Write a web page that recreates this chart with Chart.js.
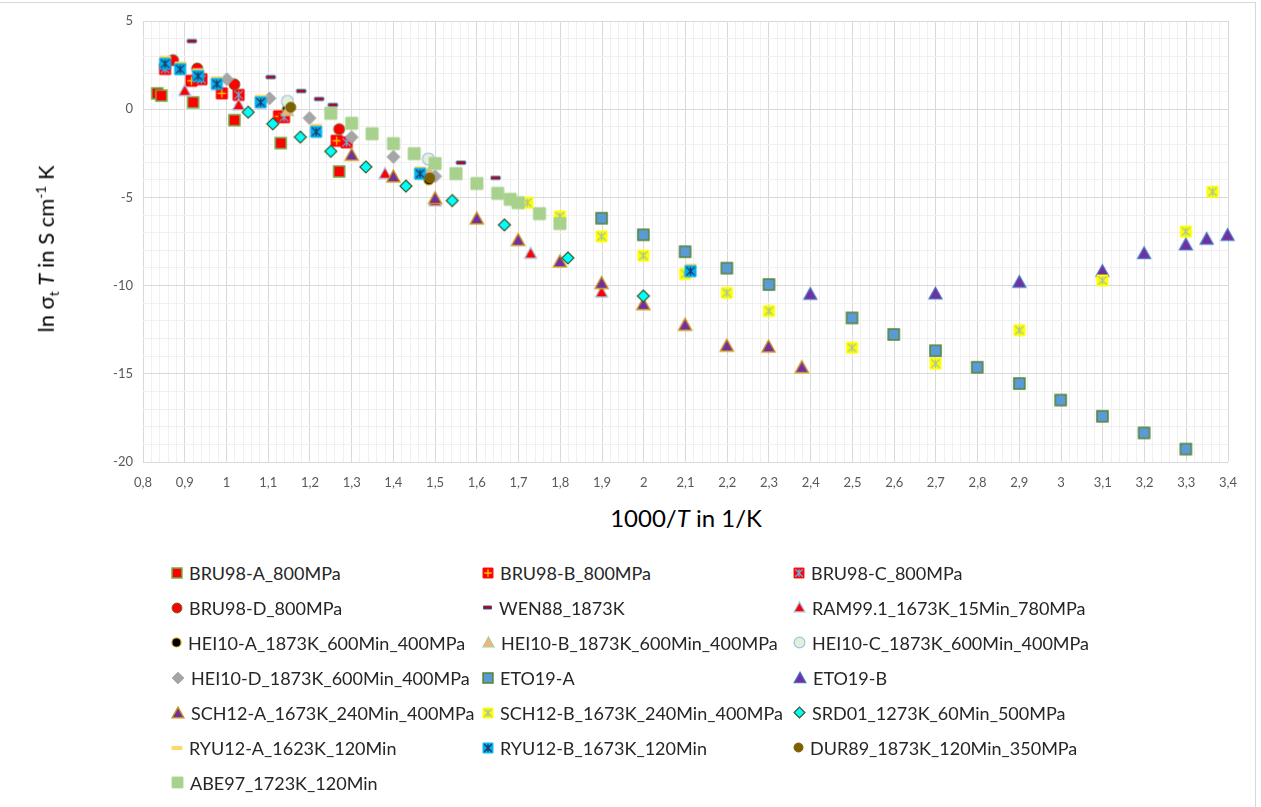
<!DOCTYPE html>
<html>
<head>
<meta charset="utf-8">
<script src="https://cdn.jsdelivr.net/npm/chart.js@4.4.1/dist/chart.umd.min.js"></script>
<style>
  body { margin: 0; background: #fff; font-family: Lato, "Open Sans", sans-serif; }
  #wrap { position: relative; width: 1261px; height: 807px; overflow: hidden; }
  #frame { position: absolute; left: -2px; top: 2px; width: 1258px; height: 830px; border: 1px solid #d9d9d9; box-sizing: border-box; }
  #plot { position: absolute; left: 0; top: 0; width: 1261px; height: 492px; }
  .ytitle { position: absolute; left: 47px; top: 249px; transform: translate(-50%, -50%) rotate(-90deg);
            white-space: nowrap; font-size: 22px; color: #000; }
  .xtitle { position: absolute; left: 686px; top: 517px; transform: translate(-50%, -50%);
            white-space: nowrap; font-size: 24px; color: #000; }
  sub, sup { font-size: 62%; }
  #legend { position: absolute; left: 170px; top: 555px; display: grid;
            grid-template-columns: 311px 311px 330px; grid-auto-rows: 35px; }
  .item { display: flex; align-items: center; font-size: 18px; color: #262626; white-space: nowrap; }
  .item canvas { margin-right: 5px; }
</style>
</head>
<body>
<div id="wrap">
  <div id="frame"></div>
  <div id="plot"><canvas id="chart"></canvas></div>
  <div class="ytitle">ln σ<sub>t</sub> <i>T</i> in S cm<sup>-1</sup> K</div>
  <div class="xtitle">1000/<i>T</i> in 1/K</div>
  <div id="legend"></div>
</div>
<script>
// ── data: [1000/T, ln(sigma T)] ─────────────────────────────────
const BRU98_A = [[0.834, 0.90], [0.844, 0.77], [0.920, 0.39], [1.019, -0.62], [1.130, -1.92], [1.270, -3.53]];
const BRU98_B = [[0.916, 1.61], [0.989, 0.90], [1.126, -0.40], [1.264, -1.79]];
const BRU98_C = [[0.853, 2.28], [0.940, 1.70], [1.029, 0.81], [1.138, -0.45], [1.288, -1.88]];
const BRU98_D = [[0.872, 2.78], [0.930, 2.31], [1.019, 1.41], [1.270, -1.13]];
const WEN88 = [[0.917, 3.86], [1.106, 1.82], [1.179, 1.03], [1.222, 0.58], [1.255, 0.24], [1.562, -3.03], [1.645, -3.89]];
const RAM99 = [[0.900, 1.05], [1.029, 0.24], [1.380, -3.65], [1.500, -5.20], [1.729, -8.17], [1.899, -10.37]];
const HEI10_A = [[1.146, 0.02], [1.485, -4.00]];
const HEI10_B = [[1.146, -0.08], [1.486, -3.57]];
const HEI10_C = [[1.146, 0.45], [1.484, -2.82]];
const HEI10_D = [[1.001, 1.70], [1.103, 0.62], [1.199, -0.50], [1.300, -1.58], [1.400, -2.70], [1.500, -3.80]];
const ETO19_A = [[1.899, -6.18], [1.999, -7.12], [2.099, -8.08], [2.199, -9.01], [2.300, -9.94], [2.499, -11.83],
                 [2.599, -12.77], [2.699, -13.69], [2.799, -14.63], [2.900, -15.55], [2.999, -16.49],
                 [3.099, -17.41], [3.199, -18.35], [3.299, -19.27]];
const ETO19_B = [[2.399, -10.48], [2.699, -10.46], [2.900, -9.80], [3.099, -9.18], [3.199, -8.17],
                 [3.299, -7.68], [3.349, -7.36], [3.399, -7.14]];
const SCH12_A = [[1.300, -2.59], [1.400, -3.82], [1.500, -5.05], [1.600, -6.20], [1.699, -7.42], [1.799, -8.64],
                 [1.899, -9.86], [1.999, -11.06], [2.099, -12.23], [2.199, -13.41], [2.299, -13.46], [2.379, -14.63]];
const SCH12_B = [[1.721, -5.30], [1.799, -6.08], [1.899, -7.21], [1.999, -8.30], [2.099, -9.34], [2.199, -10.41],
                 [2.300, -11.44], [2.499, -13.52], [2.699, -14.42], [2.900, -12.53], [3.099, -9.71],
                 [3.299, -6.93], [3.363, -4.68]];
const SRD01 = [[1.052, -0.17], [1.111, -0.83], [1.177, -1.58], [1.250, -2.39], [1.334, -3.27], [1.430, -4.36],
               [1.541, -5.18], [1.666, -6.56], [1.818, -8.43], [1.999, -10.59]];
const RYU12_A = [[0.853, 2.92], [0.890, 2.59], [0.932, 2.21], [0.977, 1.76], [1.082, 0.71], [1.215, -0.94],
                 [1.464, -3.36], [2.112, -8.87]];
const RYU12_B = [[0.853, 2.58], [0.889, 2.27], [0.932, 1.88], [0.977, 1.43], [1.082, 0.39], [1.215, -1.28],
                 [1.464, -3.66], [2.112, -9.18]];
const DUR89 = [[1.154, 0.11], [1.487, -3.90]];
const ABE97 = [[1.250, -0.23], [1.300, -0.80], [1.349, -1.39], [1.400, -1.95], [1.450, -2.52], [1.500, -3.08],
               [1.550, -3.65], [1.600, -4.21], [1.650, -4.77], [1.680, -5.11], [1.699, -5.30], [1.750, -5.92],
               [1.799, -6.48]];

const xRange = [0.8, 3.4];
const yRange = [-20, 5];

// ── marker styles (Excel-like) ──────────────────────────────────
const series = [
  { label: 'BRU98-A_800MPa', data: BRU98_A, mk: { shape: 'square', size: 11, fill: '#ff0000', stroke: '#70ad47', lw: 1.5 } },
  { label: 'BRU98-B_800MPa', data: BRU98_B, mk: { shape: 'square', size: 11, fill: '#ff0000', stroke: '#ff0000', lw: 1, inner: 'plus', ic: '#ffc000' } },
  { label: 'BRU98-C_800MPa', data: BRU98_C, mk: { shape: 'square', size: 11, fill: '#ff0000', stroke: '#ff0000', lw: 1, inner: 'star', ic: '#6fa8dc' } },
  { label: 'BRU98-D_800MPa', data: BRU98_D, mk: { shape: 'circle', size: 11, fill: '#ff0000', stroke: '#5a6a2a', lw: 1 } },
  { label: 'WEN88_1873K', data: WEN88, mk: { shape: 'dash', size: 9, fill: '#c00000', stroke: '#2f5597', lw: 1 } },
  { label: 'RAM99.1_1673K_15Min_780MPa', data: RAM99, mk: { shape: 'triangle', size: 12, fill: '#ff0000', stroke: '#9dc3e6', lw: 1.2 } },
  { label: 'HEI10-A_1873K_600Min_400MPa', data: HEI10_A, mk: { shape: 'circle', size: 10, fill: '#000000', stroke: '#bf9000', lw: 1.2 } },
  { label: 'HEI10-B_1873K_600Min_400MPa', data: HEI10_B, mk: { shape: 'triangle', size: 12, fill: '#f4b183', stroke: '#a9d18e', lw: 1.2 } },
  { label: 'HEI10-C_1873K_600Min_400MPa', data: HEI10_C, mk: { shape: 'circle', size: 12, fill: '#e2efda', stroke: '#9dc3e6', lw: 1.2 } },
  { label: 'HEI10-D_1873K_600Min_400MPa', data: HEI10_D, mk: { shape: 'diamond', size: 13, fill: '#a5a5a5', stroke: '#a5a5a5', lw: 1 } },
  { label: 'ETO19-A', data: ETO19_A, mk: { shape: 'square', size: 11, fill: '#5b9bd5', stroke: '#548235', lw: 1.5 } },
  { label: 'ETO19-B', data: ETO19_B, mk: { shape: 'triangle', size: 13, fill: '#7030a0', stroke: '#4472c4', lw: 1.2 } },
  { label: 'SCH12-A_1673K_240Min_400MPa', data: SCH12_A, mk: { shape: 'triangle', size: 13, fill: '#7030a0', stroke: '#c9941a', lw: 1.4 } },
  { label: 'SCH12-B_1673K_240Min_400MPa', data: SCH12_B, mk: { shape: 'square', size: 11, fill: '#ffff00', stroke: '#ffff00', lw: 1, inner: 'star', ic: '#a9c89a' } },
  { label: 'SRD01_1273K_60Min_500MPa', data: SRD01, mk: { shape: 'diamond', size: 12, fill: '#00ffff', stroke: '#375623', lw: 1.2 } },
  { label: 'RYU12-A_1623K_120Min', data: RYU12_A, mk: { shape: 'dash', size: 11, fill: '#ffd966', stroke: '#ffd966', lw: 1 } },
  { label: 'RYU12-B_1673K_120Min', data: RYU12_B, mk: { shape: 'square', size: 11, fill: '#00b0f0', stroke: '#00b0f0', lw: 1, inner: 'star', ic: '#1f3864' } },
  { label: 'DUR89_1873K_120Min_350MPa', data: DUR89, mk: { shape: 'circle', size: 10, fill: '#7f6000', stroke: '#7f6000', lw: 1 } },
  { label: 'ABE97_1723K_120Min', data: ABE97, mk: { shape: 'square', size: 12, fill: '#a9d18e', stroke: '#a9d18e', lw: 1 } }
];

// draw one marker into a small canvas, used as pointStyle and in the legend
function makeMarker(m, k) {
  const size = m.size * k;
  const dim = Math.ceil(size + 4);
  const c = document.createElement('canvas');
  c.width = dim; c.height = dim;
  const ctx = c.getContext('2d');
  const cx = dim / 2, cy = dim / 2, h = size / 2;
  ctx.fillStyle = m.fill;
  ctx.strokeStyle = m.stroke;
  ctx.lineWidth = m.lw;
  ctx.beginPath();
  if (m.shape === 'square') ctx.rect(cx - h, cy - h, size, size);
  else if (m.shape === 'circle') ctx.arc(cx, cy, h, 0, Math.PI * 2);
  else if (m.shape === 'triangle') {
    ctx.moveTo(cx, cy - h); ctx.lineTo(cx + h, cy + h * 0.8); ctx.lineTo(cx - h, cy + h * 0.8); ctx.closePath();
  } else if (m.shape === 'diamond') {
    ctx.moveTo(cx, cy - h); ctx.lineTo(cx + h, cy); ctx.lineTo(cx, cy + h); ctx.lineTo(cx - h, cy); ctx.closePath();
  } else if (m.shape === 'dash') ctx.rect(cx - h, cy - 1.5, size, 3);
  ctx.fill();
  ctx.stroke();
  if (m.inner) {
    const r = h * 0.75;
    ctx.strokeStyle = m.ic;
    ctx.lineWidth = 1.4;
    ctx.beginPath();
    if (m.inner === 'plus') {
      ctx.moveTo(cx - r, cy); ctx.lineTo(cx + r, cy);
      ctx.moveTo(cx, cy - r); ctx.lineTo(cx, cy + r);
    } else {
      ctx.moveTo(cx - r, cy - r); ctx.lineTo(cx + r, cy + r);
      ctx.moveTo(cx + r, cy - r); ctx.lineTo(cx - r, cy + r);
      ctx.moveTo(cx, cy - r); ctx.lineTo(cx, cy + r);
    }
    ctx.stroke();
  }
  return c;
}

const isMult = (v, step) => Math.abs(v / step - Math.round(v / step)) < 1e-6;
const fmtX = v => (Math.round(v * 10) / 10).toString().replace('.', ',');

new Chart(document.getElementById('chart'), {
  type: 'scatter',
  data: {
    datasets: series.map((s, i) => ({
      label: s.label,
      data: s.data.map(p => ({ x: p[0], y: p[1] })),
      pointStyle: makeMarker(s.mk, 1),
      pointRadius: 6,
      order: -i,
      clip: false
    }))
  },
  options: {
    responsive: true, maintainAspectRatio: false, animation: false,
    layout: { padding: { top: 21, right: 33, left: 0, bottom: 0 } },
    plugins: { legend: { display: false }, tooltip: { enabled: false } },
    scales: {
      x: {
        type: 'linear', min: xRange[0], max: xRange[1],
        afterFit: s => { s.height = 30; },
        border: { display: false },
        grid: { drawTicks: false, color: c => isMult(c.tick.value, 0.1) ? '#d9d9d9' : '#f0f0f0' },
        ticks: { stepSize: 0.02, autoSkip: false, maxRotation: 0, padding: 13,
                 font: { family: 'Lato', size: 13 }, color: '#595959',
                 callback: v => isMult(v, 0.1) ? fmtX(v) : '' }
      },
      y: {
        type: 'linear', min: yRange[0], max: yRange[1],
        afterFit: s => { s.width = 143; },
        border: { display: false },
        grid: { drawTicks: false, color: c => isMult(c.tick.value, 5) ? '#d9d9d9' : '#f0f0f0' },
        ticks: { stepSize: 1, autoSkip: false, padding: 10,
                 font: { family: 'Lato', size: 13 }, color: '#595959',
                 callback: v => isMult(v, 5) ? String(v) : '' }
      }
    }
  }
});

// ── legend (three columns, like the original) ──────────────────
const legend = document.getElementById('legend');
series.forEach(s => {
  const item = document.createElement('div');
  item.className = 'item';
  item.appendChild(makeMarker(s.mk, 0.9));
  const t = document.createElement('span');
  t.textContent = s.label;
  item.appendChild(t);
  legend.appendChild(item);
});
</script>
</body>
</html>
